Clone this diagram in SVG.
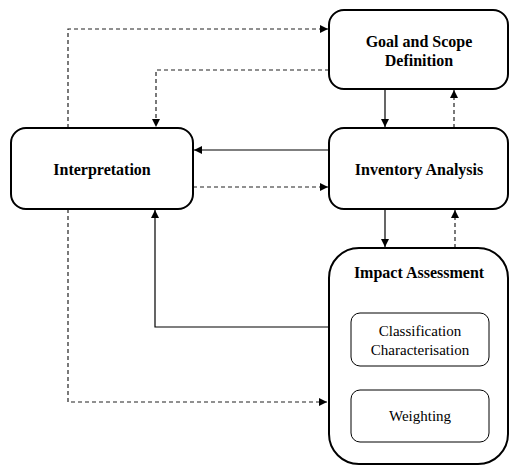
<svg xmlns="http://www.w3.org/2000/svg" width="509" height="466" viewBox="0 0 509 466">
  <style>
    .box { fill: #fff; stroke: #000; stroke-width: 2; }
    .sub { fill: #fff; stroke: #000; stroke-width: 1; }
    .title { font-family: "Liberation Serif", "Times New Roman", serif; font-size: 16px; font-weight: bold; text-anchor: middle; fill: #000; }
    .label { font-family: "Liberation Serif", "Times New Roman", serif; font-size: 15px; text-anchor: middle; fill: #000; }
    .solid { fill: none; stroke: #000; stroke-width: 1.2; marker-end: url(#arrow); }
    .dashed { fill: none; stroke: #222; stroke-width: 1.2; stroke-dasharray: 4 3; marker-end: url(#arrow); }
  </style>
  <defs>
    <marker id="arrow" viewBox="0 0 10 10" refX="10" refY="5" markerWidth="8" markerHeight="8" markerUnits="userSpaceOnUse" orient="auto">
      <path d="M0,0 L10,5 L0,10 Z" fill="#000"/>
    </marker>
  </defs>
  <rect width="509" height="466" fill="#fff"/>

  <g id="connectors">
    <!-- Interpretation -> Goal and Scope (dashed, over the top) -->
    <path class="dashed" d="M68,128 V29 H328"/>
    <!-- Goal and Scope -> Interpretation (dashed) -->
    <path class="dashed" d="M329,70 H156 V127"/>
    <!-- Goal -> Inventory -->
    <path class="solid" d="M385,89 V127"/>
    <!-- Inventory -> Goal (dashed) -->
    <path class="dashed" d="M454,128 V90"/>
    <!-- Inventory -> Interpretation -->
    <path class="solid" d="M329,150 H194"/>
    <!-- Interpretation -> Inventory (dashed) -->
    <path class="dashed" d="M193,187 H328"/>
    <!-- Inventory -> Impact -->
    <path class="solid" d="M385,209 V247"/>
    <!-- Impact -> Inventory (dashed) -->
    <path class="dashed" d="M455,248 V210"/>
    <!-- Impact -> Interpretation -->
    <path class="solid" d="M329,327 H155 V210"/>
    <!-- Interpretation -> Impact (dashed) -->
    <path class="dashed" d="M68,209 V402 H327"/>
  </g>

  <g id="goal">
    <rect class="box" x="329" y="10" width="179" height="79" rx="15"/>
    <text class="title" x="419" y="47">Goal and Scope</text>
    <text class="title" x="419" y="66">Definition</text>
  </g>

  <g id="interpretation">
    <rect class="box" x="11" y="128" width="182" height="81" rx="15"/>
    <text class="title" x="102" y="175">Interpretation</text>
  </g>

  <g id="inventory">
    <rect class="box" x="329" y="128" width="179" height="81" rx="15"/>
    <text class="title" x="419" y="175">Inventory Analysis</text>
  </g>

  <g id="impact">
    <rect class="box" x="329" y="248" width="179" height="216" rx="30"/>
    <text class="title" x="419" y="278">Impact Assessment</text>
  </g>

  <g id="classification">
    <rect class="sub" x="351" y="313" width="138" height="53" rx="9"/>
    <text class="label" x="420" y="336">Classification</text>
    <text class="label" x="420" y="355">Characterisation</text>
  </g>

  <g id="weighting">
    <rect class="sub" x="351" y="390" width="138" height="52" rx="9"/>
    <text class="label" x="420" y="421">Weighting</text>
  </g>
</svg>
